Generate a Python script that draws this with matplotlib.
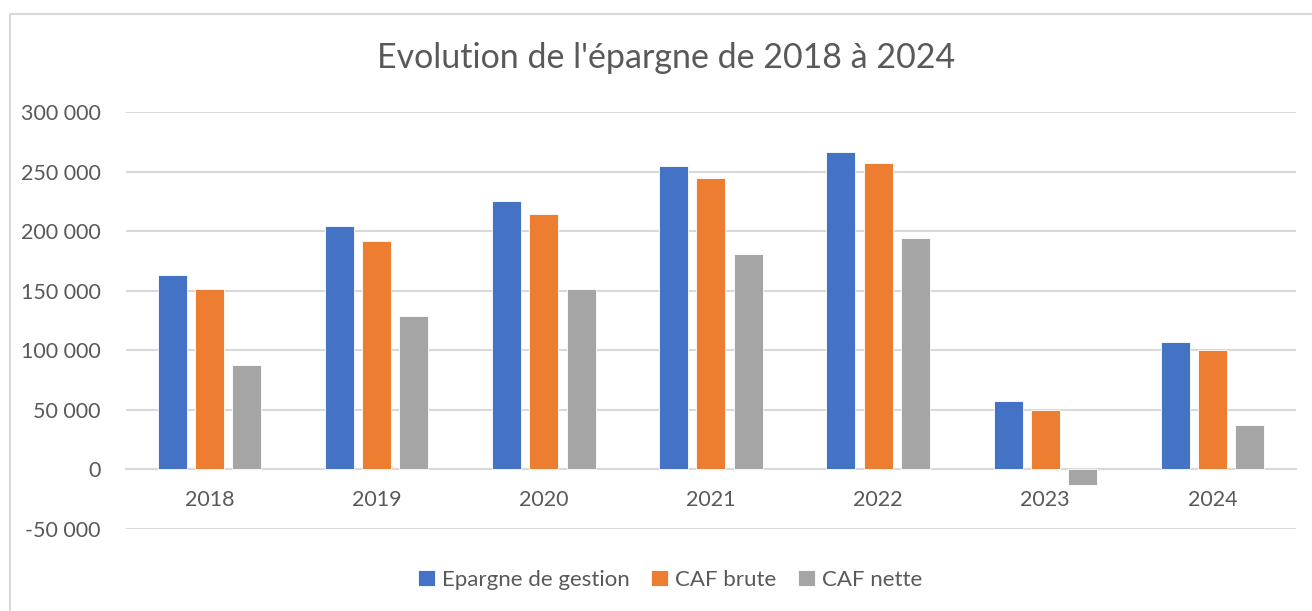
import numpy as np
import matplotlib.pyplot as plt
from matplotlib.ticker import FuncFormatter
from matplotlib.patches import Rectangle

years = ["2018", "2019", "2020", "2021", "2022", "2023", "2024"]
epargne_gestion = [163000, 204000, 225000, 255000, 266000, 57000, 107000]
caf_brute = [151000, 192000, 214000, 244500, 257500, 50000, 100500]
caf_nette = [87500, 129000, 151000, 181000, 194000, -13000, 37000]
series_names = ["Epargne de gestion", "CAF brute", "CAF nette"]
colors = ["#4472c4", "#ed7d31", "#a5a5a5"]
text_color = "#595959"
grid_color = "#d9d9d9"

plt.rcParams["font.family"] = ["Lato", "DejaVu Sans"]

fig = plt.figure(figsize=(13.12, 6.11), dpi=100)
ax = fig.add_axes([0.096, 0.1347, 0.8918, 0.682])

# chart area border
fig.patches.append(Rectangle((10 / 1312, -0.01), 1.0, 1 - 14 / 611 + 0.01,
                             transform=fig.transFigure, fill=False,
                             edgecolor=grid_color, linewidth=1.5))

x = np.arange(len(years))
width = 0.1735
step = 0.2225
for i, (vals, name, c) in enumerate(zip([epargne_gestion, caf_brute, caf_nette], series_names, colors)):
    ax.bar(x + (i - 1) * step, vals, width, color=c, label=name, zorder=3,
           edgecolor="white", linewidth=0.6)

ax.set_xlim(-0.5, len(years) - 0.5)
ax.set_ylim(-50000, 300000)
ax.set_yticks(np.arange(-50000, 300001, 50000))
ax.yaxis.set_major_formatter(FuncFormatter(lambda v, p: f"{int(v):,}".replace(",", " ")))
ax.grid(axis="y", color=grid_color, linewidth=1.5, zorder=0)
ax.set_xticks(x)
ax.set_xticklabels(years)

for s in ["top", "right", "left"]:
    ax.spines[s].set_visible(False)
ax.spines["bottom"].set_position(("data", 0))
ax.spines["bottom"].set_color(grid_color)
ax.spines["bottom"].set_linewidth(1.5)
ax.tick_params(axis="both", length=0, labelsize=15.5, labelcolor=text_color)
ax.tick_params(axis="x", pad=15)
ax.tick_params(axis="y", pad=18)

fig.text(0.508, 0.905, "Evolution de l'épargne de 2018 à 2024", ha="center", va="center",
         fontsize=24.5, color=text_color)

ax.legend(loc="center", bbox_to_anchor=(0.5107, 0.0507), bbox_transform=fig.transFigure,
          ncol=3, frameon=False, fontsize=16, labelcolor=text_color,
          handlelength=0.75, handleheight=0.75, columnspacing=1.0, handletextpad=0.3)

fig.savefig("out.png", dpi=100)
